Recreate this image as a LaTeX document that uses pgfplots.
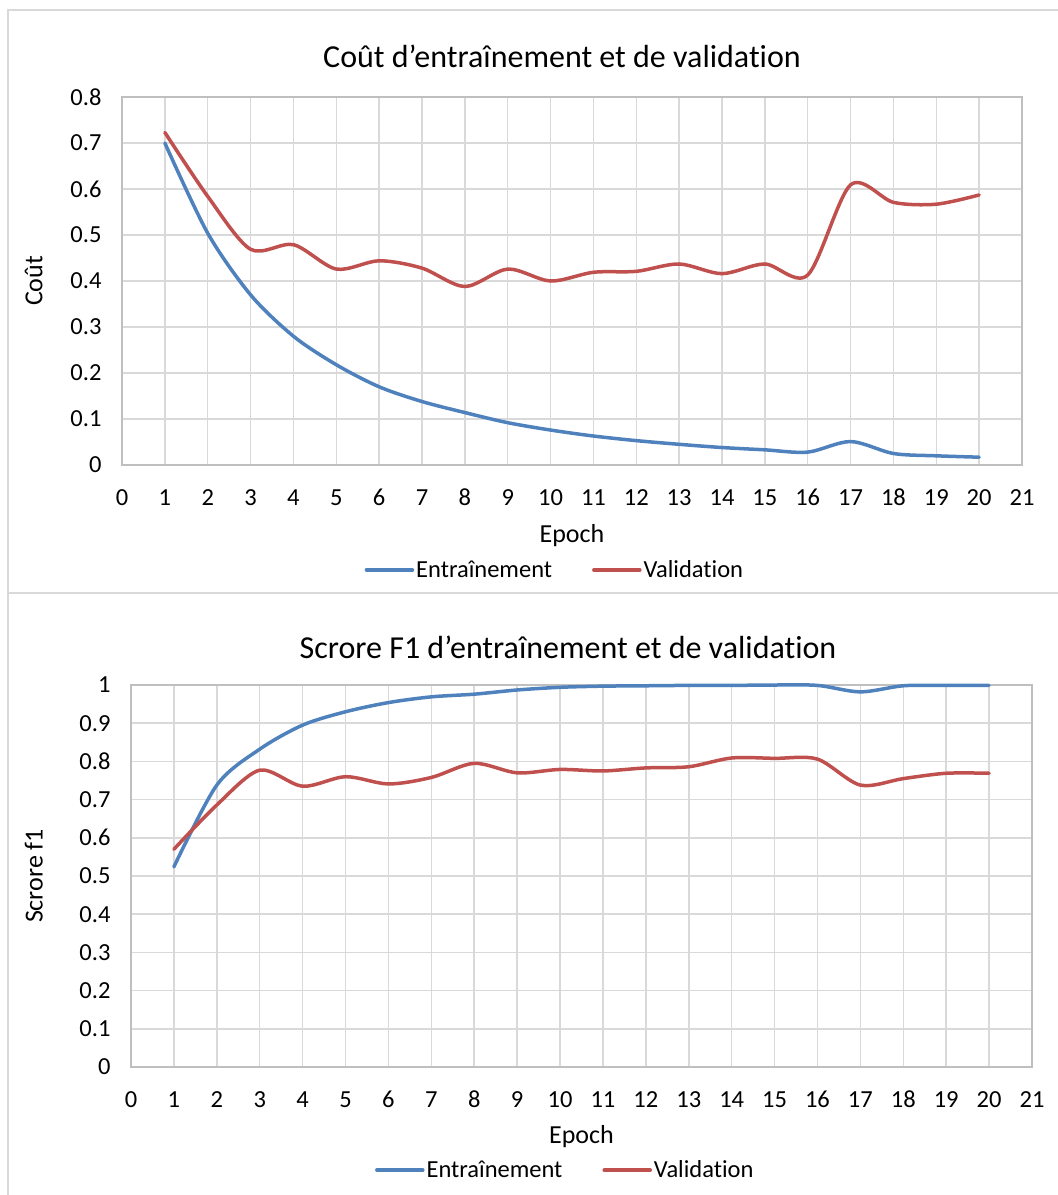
\documentclass[border=0pt]{standalone}
\usepackage{pgfplots}
\pgfplotsset{compat=1.18}
\usepackage{fontspec}
\setmainfont{Carlito}[Ligatures=NoCommon]

\definecolor{serieA}{HTML}{4F81BD}
\definecolor{serieB}{HTML}{C0504D}
\definecolor{gridc}{HTML}{D9D9D9}
\definecolor{framec}{HTML}{D9D9D9}
\definecolor{axisc}{HTML}{BFBFBF}

\pgfplotsset{
  excelstyle/.style={
    scale only axis,
    xmin=0, xmax=21,
    xtick={0,1,...,21},
    grid=major,
    major grid style={gridc, line width=1.5pt},
    axis line style={axisc, line width=1.5pt},
    major tick length=0pt,
    tick label style={font=\fontsize{24.5}{28}\selectfont},
    label style={font=\fontsize{26}{30}\selectfont},
    /pgf/number format/assume math mode=true,
    yticklabel style={/pgf/number format/fixed, /pgf/number format/precision=1},
    xticklabel style={anchor=base, yshift=-40pt},
    yticklabel style={xshift=-17pt},
    legend columns=2,
    legend style={draw=none, fill=none, font=\fontsize{24.5}{28}\selectfont,
      /tikz/every even column/.append style={column sep=38pt}},
    legend image code/.code={\draw[#1] (0pt,0pt) -- (46pt,0pt);},
    every axis plot/.append style={smooth, line width=3.5pt, line cap=round},
  }
}

\begin{document}
\begin{tikzpicture}[x=1pt,y=1pt]
  \path[use as bounding box] (0,0) rectangle (1058,-1195);
  % chart frames
  \draw[framec, line width=2pt] (8,-10) rectangle (1080,-593);
  \draw[framec, line width=2pt] (8,-593) rectangle (1080,-1220);

  % loss chart
  \node[font=\fontsize{32}{36}\selectfont] at (562,-56) {Coût d’entraînement et de validation};
  \begin{axis}[excelstyle,
    at={(122pt,-465pt)}, anchor=south west,
    width=900pt, height=368pt,
    ymin=0, ymax=0.8, ytick={0,0.1,...,0.8},
    xlabel={Epoch}, ylabel={Coût},
    xlabel style={at={(axis description cs:0.5,-0.193)}, anchor=center},
    ylabel style={at={(axis description cs:-0.098,0.5)}, anchor=center},
    legend style={at={(axis description cs:0.481,-0.285)}, anchor=center},
  ]
    \addplot[serieA] coordinates {
      (1,0.700) (2,0.504) (3,0.370) (4,0.280) (5,0.218) (6,0.170) (7,0.138)
      (8,0.114) (9,0.092) (10,0.076) (11,0.063) (12,0.053) (13,0.045)
      (14,0.038) (15,0.033) (16,0.028) (17,0.051) (18,0.025) (19,0.020) (20,0.017)
    };
    \addlegendentry{Entraînement}
    \addplot[serieB] coordinates {
      (1,0.723) (2,0.584) (3,0.469) (4,0.479) (5,0.426) (6,0.444) (7,0.428)
      (8,0.388) (9,0.426) (10,0.400) (11,0.419) (12,0.421) (13,0.437)
      (14,0.416) (15,0.437) (16,0.413) (17,0.609) (18,0.571) (19,0.567) (20,0.587)
    };
    \addlegendentry{Validation}
  \end{axis}

  % F1 chart
  \node[font=\fontsize{32}{36}\selectfont] at (568,-647) {Scrore F1 d’entraînement et de validation};
  \begin{axis}[excelstyle,
    at={(131pt,-1067pt)}, anchor=south west,
    width=901pt, height=382pt,
    ymin=0, ymax=1, ytick={0,0.1,...,1},
    clip=false,
    xlabel={Epoch}, ylabel={Scrore f1},
    xlabel style={at={(axis description cs:0.5,-0.183)}, anchor=center},
    ylabel style={at={(axis description cs:-0.108,0.5)}, anchor=center},
    legend style={at={(axis description cs:0.482,-0.27)}, anchor=center},
  ]
    \addplot[serieA] coordinates {
      (1,0.524) (2,0.738) (3,0.832) (4,0.895) (5,0.930) (6,0.954) (7,0.969)
      (8,0.976) (9,0.987) (10,0.994) (11,0.997) (12,0.998) (13,0.999)
      (14,0.999) (15,1.000) (16,0.999) (17,0.982) (18,0.998) (19,0.999) (20,0.999)
    };
    \addlegendentry{Entraînement}
    \addplot[serieB] coordinates {
      (1,0.570) (2,0.686) (3,0.777) (4,0.735) (5,0.760) (6,0.741) (7,0.758)
      (8,0.795) (9,0.770) (10,0.779) (11,0.775) (12,0.783) (13,0.786)
      (14,0.809) (15,0.808) (16,0.806) (17,0.738) (18,0.755) (19,0.769) (20,0.769)
    };
    \addlegendentry{Validation}
  \end{axis}
\end{tikzpicture}
\end{document}
